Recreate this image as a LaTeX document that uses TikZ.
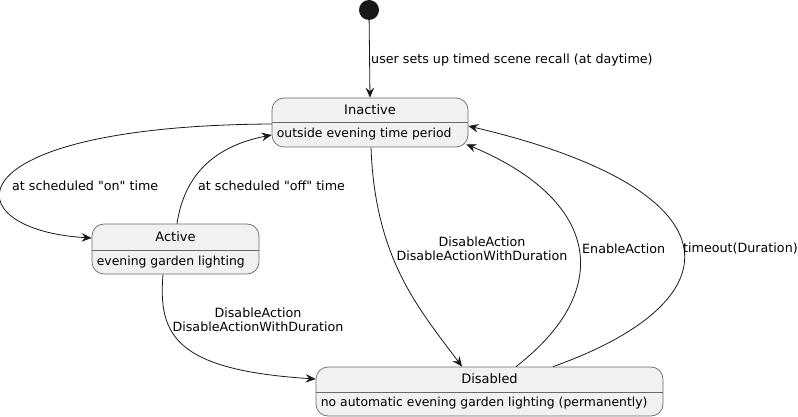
\documentclass[tikz,border=0pt]{standalone}
\usepackage{fontspec}
\setmainfont{DejaVu Sans}
\usetikzlibrary{arrows.meta,positioning}
\definecolor{boxfill}{HTML}{F1F1F1}
\definecolor{boxline}{HTML}{6A6A6A}
\definecolor{arrowline}{HTML}{181818}

\tikzset{
  statebox/.style={draw=boxline, fill=boxfill, rounded corners=12pt, line width=0.7pt, inner sep=0pt},
  statename/.style={font=\fontsize{13}{15}\selectfont, inner sep=0pt},
  statedesc/.style={font=\fontsize{12.4}{14}\selectfont, inner sep=0pt, anchor=west},
  divider/.style={draw=boxline, line width=0.7pt},
  trans/.style={draw=arrowline, line width=0.8pt, -{Stealth[length=10pt,width=8.5pt,inset=3.5pt]}},
  translabel/.style={font=\fontsize{12.7}{14}\selectfont, inner sep=0pt, align=center},
}

\begin{document}
\begin{tikzpicture}[x=1pt, y=-1pt]
            \useasboundingbox (0,0) rectangle (798,417);

            % initial state
            \node[circle, fill=arrowline, minimum size=20pt, inner sep=0pt] (start) at (369,10) {};

            % Inactive state
            \node[statebox, minimum width=196pt, minimum height=49pt] (inactive) at (370,122.5) {};
            \node[statename] (inactivename) at ([yshift=-12pt]inactive.north) {Inactive};
            \draw[divider] ([yshift=-25pt]inactive.north west) -- ([yshift=-25pt]inactive.north east);
            \node[statedesc] (inactivedesc) at ([xshift=5pt, yshift=13pt]inactive.south west) {outside evening time period};

            % Active state
            \node[statebox, minimum width=167pt, minimum height=50pt] (active) at (175.5,249) {};
            \node[statename] (activename) at ([yshift=-13pt]active.north) {Active};
            \draw[divider] ([yshift=-27pt]active.north west) -- ([yshift=-27pt]active.north east);
            \node[statedesc] (activedesc) at ([xshift=5pt, yshift=12pt]active.south west) {evening garden lighting};

            % Disabled state
            \node[statebox, minimum width=347pt, minimum height=49pt] (disabled) at (489.5,391.5) {};
            \node[statename] (disabledname) at ([yshift=-12pt]disabled.north) {Disabled};
            \draw[divider] ([yshift=-26pt]disabled.north west) -- ([yshift=-26pt]disabled.north east);
            \node[statedesc] (disableddesc) at ([xshift=5pt, yshift=13pt]disabled.south west) {no automatic evening garden lighting (permanently)};

            % Transitions
            \draw[trans] (start) -- (inactive.north);
            \node[translabel, anchor=west] (setuplabel) at (371,60) {user sets up timed scene recall (at daytime)};

            \draw[trans] ([yshift=-1.5pt]inactive.west) .. controls (-55,126) and (-48,230) .. ([yshift=11pt]active.west);
            \node[translabel, anchor=west] (onlabel) at (12,186) {at scheduled \textquotedbl on\textquotedbl{} time};

            \draw[trans] ([xshift=1.5pt]active.north) .. controls (185,170) and (220,145) .. ([yshift=-12.5pt]inactive.west);
            \node[translabel, anchor=west] (offlabel) at (198,186) {at scheduled \textquotedbl off\textquotedbl{} time};

            \draw[trans] ([xshift=1pt]inactive.south) .. controls (375,260) and (420,310) .. ([xshift=-27.5pt]disabled.north);
            \node[translabel] (disablelabel) at (482,249) {DisableAction\\DisableActionWithDuration};

            \draw[trans] ([xshift=26.5pt]disabled.north) .. controls (615,290) and (600,200) .. ([xshift=-2pt, yshift=3pt]inactive.south east);
            \node[translabel, anchor=west] (enablelabel) at (582,249) {EnableAction};

            \draw[trans] ([xshift=63.5pt]disabled.north) .. controls (740,300) and (740,190) .. ([yshift=-3.5pt]inactive.east);
            \node[translabel, anchor=west] (timeoutlabel) at (683,249) {timeout(Duration)};

            \draw[trans] ([xshift=-12.5pt]active.south) .. controls (158,335) and (175,370) .. ([yshift=12.5pt]disabled.west);
            \node[translabel] (disablelabeltwo) at (258,320) {DisableAction\\DisableActionWithDuration};

\end{tikzpicture}
\end{document}
